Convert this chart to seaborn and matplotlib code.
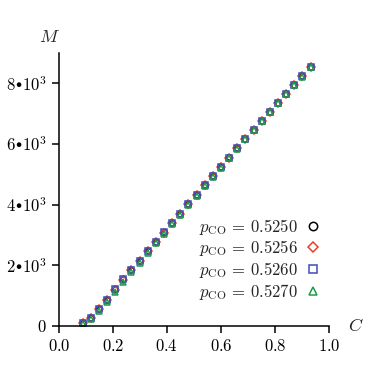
import matplotlib
matplotlib.use("Agg")
import matplotlib.pyplot as plt
import seaborn as sns
import pandas as pd

C = [0.088, 0.118, 0.148, 0.178, 0.208, 0.239, 0.269, 0.299, 0.329, 0.359,
     0.389, 0.420, 0.450, 0.480, 0.510, 0.540, 0.570, 0.600, 0.631, 0.661,
     0.691, 0.721, 0.751, 0.781, 0.811, 0.842, 0.872, 0.902, 0.932]

M_5250 = [95, 265, 555, 865, 1205, 1535, 1845, 2155, 2465, 2775,
          3085, 3395, 3705, 4015, 4325, 4635, 4935, 5245, 5555, 5865,
          6170, 6470, 6760, 7060, 7350, 7650, 7940, 8230, 8530]
M_5256 = [90, 258, 545, 855, 1195, 1525, 1838, 2148, 2460, 2770,
          3080, 3390, 3700, 4012, 4322, 4632, 4933, 5243, 5553, 5863,
          6168, 6468, 6758, 7058, 7348, 7648, 7938, 8228, 8528]
M_5260 = [92, 262, 550, 860, 1200, 1530, 1842, 2152, 2462, 2772,
          3082, 3392, 3702, 4013, 4323, 4633, 4934, 5244, 5554, 5864,
          6169, 6469, 6759, 7059, 7349, 7649, 7939, 8229, 8529]
M_5270 = [70, 225, 490, 790, 1120, 1450, 1770, 2090, 2405, 2720,
          3035, 3350, 3665, 3980, 4295, 4605, 4910, 5225, 5535, 5850,
          6155, 6460, 6750, 7050, 7345, 7645, 7935, 8225, 8525]

labels = [r"$p_{\mathrm{CO}}\,=\,0.5250$", r"$p_{\mathrm{CO}}\,=\,0.5256$",
          r"$p_{\mathrm{CO}}\,=\,0.5260$", r"$p_{\mathrm{CO}}\,=\,0.5270$"]
colors = ["#000000", "#e8402a", "#3d4db7", "#1e9a4a"]
markers = ["o", "D", "s", "^"]
msizes = [4.0, 3.6, 3.7, 4.2]

xticks = [0.0, 0.2, 0.4, 0.6, 0.8, 1.0]
xticklabels = ["0.0", "0.2", "0.4", "0.6", "0.8", "1.0"]
yticks = [0, 2000, 4000, 6000, 8000]
yticklabels = ["0", "$2$\u2219$10^{3}$", "$4$\u2219$10^{3}$",
               "$6$\u2219$10^{3}$", "$8$\u2219$10^{3}$"]

sns.set_style("ticks")
plt.rcParams["mathtext.fontset"] = "cm"
plt.rcParams["font.family"] = ["DejaVu Serif"]

fig = plt.figure(figsize=(3.82, 3.82), dpi=100)
ax = fig.add_axes([0.154, 0.147, 0.707, 0.714])

series = [M_5250, M_5256, M_5260, M_5270]
for M, lab, col, mk, ms in zip(series, labels, colors, markers, msizes):
    df = pd.DataFrame({"C": C, "M": M})
    sns.lineplot(data=df, x="C", y="M", ax=ax, color=col, marker=mk,
                 linestyle="", markerfacecolor="none", markeredgecolor=col,
                 markeredgewidth=1.1, markersize=ms, label=lab,
                 estimator=None, sort=False)

ax.set_xlim(0, 1.0)
ax.set_ylim(0, 9000)
ax.set_xticks(xticks)
ax.set_xticklabels([rf"${t}$" for t in xticklabels])
ax.set_yticks(yticks)
ax.set_yticklabels([rf"${t}$" if t == "0" else t for t in yticklabels])
ax.tick_params(axis="both", labelsize=12, length=5, width=1.1,
               direction="out", color="black", labelcolor="black")
for s in ["top", "right"]:
    ax.spines[s].set_visible(False)
for s in ["left", "bottom"]:
    ax.spines[s].set_linewidth(1.1)
    ax.spines[s].set_color("black")
ax.set_xlabel("")
ax.set_ylabel("")
ax.text(-0.033, 1.06, r"$M$", transform=ax.transAxes, fontsize=13,
        ha="center", va="center")
ax.text(1.07, 0.0, r"$C$", transform=ax.transAxes, fontsize=13,
        ha="left", va="center")

leg = ax.legend(loc="center right", bbox_to_anchor=(0.99, 0.245),
                frameon=False, markerfirst=False, fontsize=12,
                handlelength=0.8, handletextpad=0.5, labelspacing=0.1,
                borderaxespad=0, markerscale=1.5)

fig.savefig("out.png", dpi=100)
